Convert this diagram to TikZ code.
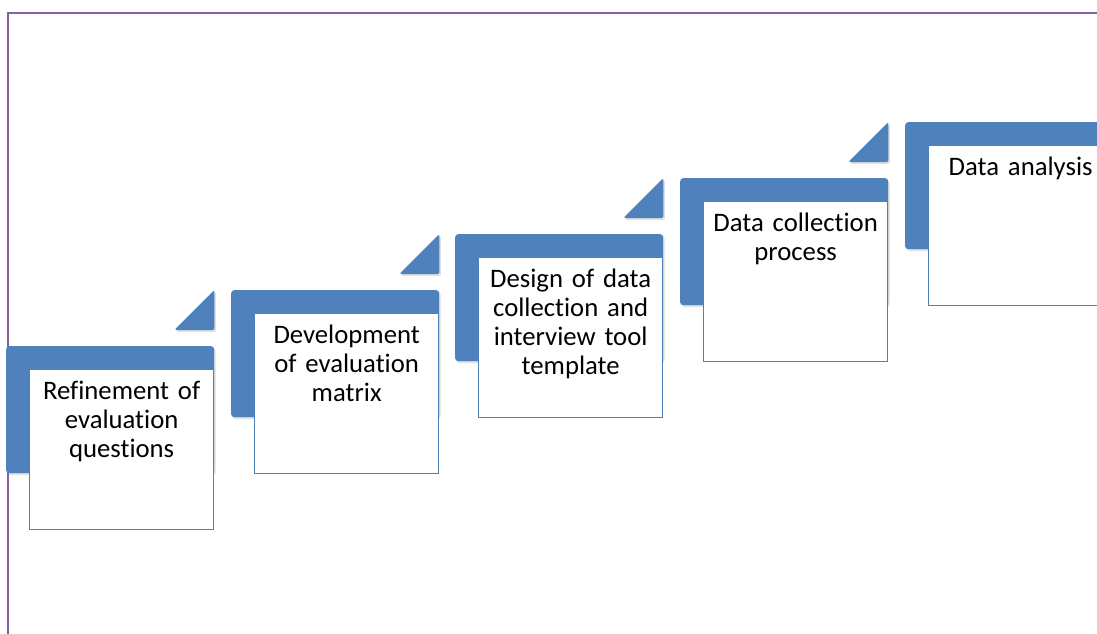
\documentclass[tikz,border=0pt]{standalone}
\usepackage{fontspec}
\setmainfont{Carlito}[Ligatures=NoCommon]
\usepackage{tikz}
\usetikzlibrary{positioning,shadows}
\definecolor{stepblue}{HTML}{4F81BD}
\definecolor{framepurple}{HTML}{8064A2}
\tikzset{bracket style/.style={
		fill=stepblue,
		rectangle,
		rounded corners=3pt,
		minimum width=208pt,
		minimum height=127pt,
		inner sep=0pt,
		anchor=north west,
		drop shadow={shadow xshift=1.5pt,shadow yshift=-2pt,opacity=0.25},
	},
	box style/.style={
		draw=stepblue,
		line width=1.3pt,
		fill=white,
		rectangle,
		minimum width=184pt,
		minimum height=160pt,
		inner sep=0pt,
		anchor=north west,
	},
	text style/.style={
		text=black,
		font=\fontsize{26.7}{29}\selectfont,
		text width=180pt,
		align=center,
		inner sep=0pt,
		anchor=base,
	},
	arrow style/.style={
		fill=stepblue,
		rounded corners=2pt,
		drop shadow={shadow xshift=1.5pt,shadow yshift=-2pt,opacity=0.25},
	},
	frame style/.style={
		draw=framepurple,
		line width=1.2pt,
	}
}

\begin{document}
\begin{tikzpicture}[x=1pt,y=-1pt]
	\useasboundingbox (0,0) rectangle (1097,634);
	\draw[frame style] (8,640) -- (8,13) -- (1105,13);
	
	% steps
	\node[bracket style] (Step1) at (6,346) {};
	\node[bracket style] (Step2) at ([xshift=225pt,yshift=56pt]Step1.north west) {};
	\node[bracket style] (Step3) at ([xshift=224pt,yshift=56pt]Step2.north west) {};
	\node[bracket style] (Step4) at ([xshift=225pt,yshift=56pt]Step3.north west) {};
	\node[bracket style] (Step5) at ([xshift=225pt,yshift=56pt]Step4.north west) {};
	
	% small triangles
	\fill[arrow style] ([yshift=16pt]Step1.north east) -- ([yshift=56pt]Step1.north east) -- ([xshift=-40pt,yshift=16pt]Step1.north east) -- cycle;
	\fill[arrow style] ([yshift=16pt]Step2.north east) -- ([yshift=56pt]Step2.north east) -- ([xshift=-40pt,yshift=16pt]Step2.north east) -- cycle;
	\fill[arrow style] ([yshift=16pt]Step3.north east) -- ([yshift=56pt]Step3.north east) -- ([xshift=-40pt,yshift=16pt]Step3.north east) -- cycle;
	\fill[arrow style] ([yshift=16pt]Step4.north east) -- ([yshift=56pt]Step4.north east) -- ([xshift=-40pt,yshift=16pt]Step4.north east) -- cycle;
	
	% white boxes
	\node[box style] (Box1) at ([xshift=23pt,yshift=-23pt]Step1.north west) {};
	\node[box style] (Box2) at ([xshift=23pt,yshift=-23pt]Step2.north west) {};
	\node[box style] (Box3) at ([xshift=23pt,yshift=-23pt]Step3.north west) {};
	\node[box style] (Box4) at ([xshift=23pt,yshift=-23pt]Step4.north west) {};
	\node[box style] (Box5) at ([xshift=23pt,yshift=-23pt]Step5.north west) {};
	
	% labels
	\node[text style] (Refinement) at ([yshift=-30pt]Box1.north) {Refinement of\\evaluation\\questions};
	\node[text style] (Matrix) at ([yshift=-30pt]Box2.north) {Development\\of evaluation\\matrix};
	\node[text style] (Design) at ([yshift=-30pt]Box3.north) {Design of data\\collection and\\interview tool\\template};
	\node[text style] (Collection) at ([yshift=-30pt]Box4.north) {Data collection\\process};
	\node[text style] (Analysis) at ([yshift=-30pt]Box5.north) {Data analysis};
\end{tikzpicture}
\end{document}
